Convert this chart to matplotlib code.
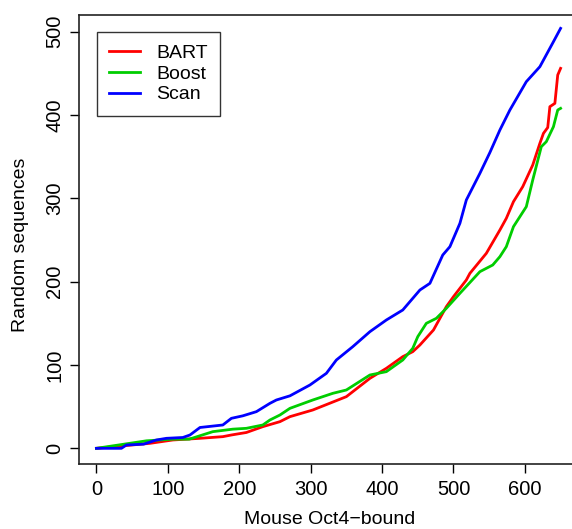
import matplotlib
matplotlib.use("Agg")
import matplotlib.pyplot as plt

plt.rcParams['font.family'] = ['Liberation Sans', 'DejaVu Sans']

scan_x = [0, 35, 42, 66, 84, 98, 121, 131, 145, 177, 189, 205, 224, 243, 252, 271, 299, 322, 336, 359,
          383, 406, 429, 453, 467, 485, 495, 509, 518, 537, 551, 565, 579, 602, 621, 640, 650]
scan_y = [0, 0, 4, 5, 10, 12, 13, 16, 25, 28, 36, 39, 44, 54, 58, 63, 76, 90, 106, 122,
          140, 154, 166, 190, 198, 232, 242, 270, 298, 330, 355, 382, 406, 440, 458, 488, 504]

bart_x = [0, 75, 107, 145, 177, 189, 210, 233, 257, 271, 303, 350, 383, 406, 429, 443, 453, 472, 490,
          500, 518, 523, 546, 565, 574, 584, 597, 611, 621, 626, 632, 635, 642, 646, 650]
bart_y = [0, 6, 10, 12, 14, 16, 19, 26, 32, 38, 46, 62, 84, 96, 110, 116, 124, 142, 170,
          182, 202, 210, 234, 262, 276, 296, 314, 340, 366, 378, 385, 410, 414, 448, 456]

boost_x = [0, 70, 107, 130, 163, 191, 210, 233, 243, 257, 271, 303, 331, 350, 383, 406, 429, 443, 450,
           462, 476, 490, 509, 537, 555, 565, 574, 584, 602, 611, 623, 630, 640, 646, 650]
boost_y = [0, 9, 11, 11, 20, 23, 24, 28, 34, 40, 48, 58, 66, 70, 88, 92, 106, 120, 134,
           150, 156, 168, 186, 212, 220, 230, 242, 266, 290, 322, 362, 368, 386, 406, 408]

series_names = ["BART", "Boost", "Scan"]
series_colors = ["#FF0000", "#00CD00", "#0000FF"]

xticks = [0, 100, 200, 300, 400, 500, 600]
yticks = [0, 100, 200, 300, 400, 500]

fig = plt.figure(figsize=(5.72, 5.29), dpi=100)
ax = fig.add_axes([0.138, 0.1229, 0.877, 0.8487])

data = [(bart_x, bart_y), (boost_x, boost_y), (scan_x, scan_y)]
for (xs, ys), name, col in zip(data, series_names, series_colors):
    ax.plot(xs, ys, color=col, lw=2.0, label=name, solid_joinstyle='round')

ax.set_xlim(-24.5, 678)
ax.set_ylim(-18.8, 520)
ax.set_xticks(xticks)
ax.set_yticks(yticks)
ax.tick_params(axis='both', direction='out', length=6.2, width=1.0, labelsize=14.5, colors='black')
ax.tick_params(axis='x', pad=5)
ax.tick_params(axis='y', pad=4.5)
ax.set_yticklabels([str(v) for v in yticks], rotation=90, va='center', ha='right',
                   rotation_mode='default')
for sp in ax.spines.values():
    sp.set_linewidth(1.2)
    sp.set_color('#222222')

ax.set_xlabel("Mouse Oct4\u2212bound", fontsize=14)
ax.set_ylabel("Random sequences", fontsize=14)
ax.xaxis.set_label_coords(0.5, -0.105)
ax.yaxis.set_label_coords(-0.117, 0.488)
ax.yaxis.label.set_va('center')

leg = ax.legend(loc='upper left', bbox_to_anchor=(0.0353, 0.9628), borderaxespad=0,
                fontsize=14, fancybox=False, framealpha=1, edgecolor='#333333',
                handlelength=1.6, handletextpad=0.8, labelspacing=0.16, borderpad=0.65)
leg.get_frame().set_linewidth(1.0)

fig.savefig("out.png", dpi=100)
